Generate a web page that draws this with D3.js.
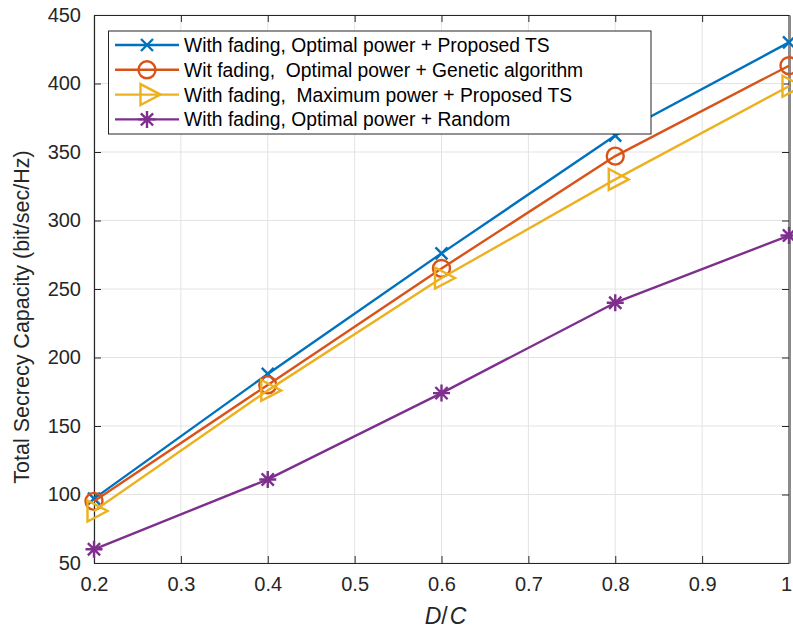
<!DOCTYPE html>
<html>
<head>
<meta charset="utf-8">
<script src="https://cdn.jsdelivr.net/npm/d3@7"></script>
<style>
  html, body { margin: 0; padding: 0; background: #fff; }
  svg { display: block; font-family: "Liberation Sans", Arial, Helvetica, sans-serif; }
</style>
</head>
<body>
<svg id="chart" width="793" height="630"></svg>
<script>
// Ratio D/C on the horizontal axis
const ratios = [0.2, 0.4, 0.6, 0.8, 1.0];

// Total secrecy capacity (bit/sec/Hz) for each scheme
const optimalProposedTS = [97, 188, 276, 362, 430];
const optimalGenetic    = [95, 180, 265, 347, 413];
const maximumProposedTS = [88, 176, 258, 330, 398];
const optimalRandom     = [60, 111, 174, 240, 289];

const seriesNames = [
  "With fading, Optimal power + Proposed TS",
  "Wit fading,  Optimal power + Genetic algorithm",
  "With fading,  Maximum power + Proposed TS",
  "With fading, Optimal power + Random"
];

const xTicks = [0.2, 0.3, 0.4, 0.5, 0.6, 0.7, 0.8, 0.9, 1];
const yTicks = [50, 100, 150, 200, 250, 300, 350, 400, 450];

const series = [
  { name: seriesNames[0], values: optimalProposedTS, color: "#0072BD", marker: "cross" },
  { name: seriesNames[1], values: optimalGenetic,    color: "#D95319", marker: "circle" },
  { name: seriesNames[2], values: maximumProposedTS, color: "#EDB120", marker: "triangle" },
  { name: seriesNames[3], values: optimalRandom,     color: "#7E2F8E", marker: "star" }
];

const svg = d3.select("#chart");
const plot = { left: 94, right: 789, top: 15, bottom: 563 };

const x = d3.scaleLinear().domain([0.2, 1]).range([plot.left, plot.right]);
const y = d3.scaleLinear().domain([50, 450]).range([plot.bottom, plot.top]);

const axisColor = "#262626";
const gridColor = "#e3e3e3";
const fontFamily = "'Liberation Sans', Arial, Helvetica, sans-serif";

// Grid
const grid = svg.append("g");
grid.selectAll("line.gx").data(xTicks).join("line")
  .attr("x1", d => x(d)).attr("x2", d => x(d))
  .attr("y1", plot.top).attr("y2", plot.bottom)
  .attr("stroke", gridColor).attr("stroke-width", 1);
grid.selectAll("line.gy").data(yTicks).join("line")
  .attr("x1", plot.left).attr("x2", plot.right)
  .attr("y1", d => y(d)).attr("y2", d => y(d))
  .attr("stroke", gridColor).attr("stroke-width", 1);

// Axes with inward ticks
const xAxis = d3.axisBottom(x).tickValues(xTicks).tickSizeInner(-7).tickSizeOuter(0)
  .tickPadding(14).tickFormat(d => d === 1 ? "1" : d3.format(".1f")(d));
const yAxis = d3.axisLeft(y).tickValues(yTicks).tickSizeInner(-7).tickSizeOuter(0)
  .tickPadding(13).tickFormat(d3.format("d"));

const gx = svg.append("g").attr("transform", `translate(0,${plot.bottom})`).call(xAxis);
const gy = svg.append("g").attr("transform", `translate(${plot.left},0)`).call(yAxis);
const gxTop = svg.append("g").attr("transform", `translate(0,${plot.top})`)
  .call(d3.axisTop(x).tickValues(xTicks).tickSizeInner(-7).tickSizeOuter(0).tickFormat(""));
const gyRight = svg.append("g").attr("transform", `translate(${plot.right},0)`)
  .call(d3.axisRight(y).tickValues(yTicks).tickSizeInner(-7).tickSizeOuter(0).tickFormat(""));

[gx, gy, gxTop, gyRight].forEach(g => {
  g.select(".domain").attr("stroke", axisColor).attr("stroke-width", 1.2);
  g.selectAll(".tick line").attr("stroke", axisColor).attr("stroke-width", 1);
  g.selectAll(".tick text").attr("fill", axisColor).attr("font-size", 20)
    .attr("font-family", fontFamily);
});
gyRight.select(".domain").attr("stroke", "#8a8a8a").attr("stroke-width", 3);
// keep the last x label inside the frame
gx.selectAll(".tick text").filter(d => d === 1).attr("dx", -3);

// Axis titles
svg.append("text")
  .attr("transform", `translate(29,${(plot.top + plot.bottom) / 2 + 28}) rotate(-90)`)
  .attr("text-anchor", "middle").attr("fill", axisColor).attr("font-size", 21.5)
  .text("Total Secrecy Capacity (bit/sec/Hz)");

const xt = svg.append("text")
  .attr("x", (plot.left + plot.right) / 2 + 4).attr("y", 624)
  .attr("text-anchor", "middle").attr("fill", axisColor).attr("font-size", 23)
  .attr("xml:space", "preserve").style("white-space", "pre");
xt.append("tspan").attr("font-style", "italic").text("D");
xt.append("tspan").text("/");
xt.append("tspan").attr("font-style", "italic").attr("dx", 2).text("C");

// Marker shapes centred on a data point
function markerPath(type) {
  switch (type) {
    case "cross": { const s = 6; return `M${-s},${-s}L${s},${s}M${-s},${s}L${s},${-s}`; }
    case "circle": { const r = 8.5; return `M${r},0A${r},${r} 0 1,1 ${-r},0A${r},${r} 0 1,1 ${r},0Z`; }
    case "triangle": return "M-6.5,-10.5L-6.5,10.5L13.5,0Z";
    case "star": {
      const s = 8.5, d = s * 0.72;
      return `M${-s},0L${s},0M0,${-s}L0,${s}M${-d},${-d}L${d},${d}M${-d},${d}L${d},${-d}`;
    }
  }
}

const line = d3.line().x(d => x(d[0])).y(d => y(d[1]));

const marks = svg.append("g");
series.forEach(s => {
  const pts = ratios.map((r, i) => [r, s.values[i]]);
  marks.append("path").datum(pts)
    .attr("d", line).attr("fill", "none")
    .attr("stroke", s.color).attr("stroke-width", 2.4).attr("stroke-linejoin", "round");
  marks.selectAll(null).data(pts).join("path")
    .attr("transform", d => `translate(${x(d[0])},${y(d[1])})`)
    .attr("d", markerPath(s.marker))
    .attr("fill", "none").attr("stroke", s.color).attr("stroke-width", 2.4);
});

// Legend
const legend = svg.append("g");
const lg = { x: 108.5, y: 31, w: 542.5, h: 103, row: 24.8, first: 45 };
legend.append("rect")
  .attr("x", lg.x).attr("y", lg.y).attr("width", lg.w).attr("height", lg.h)
  .attr("fill", "#fff").attr("stroke", axisColor).attr("stroke-width", 1);
series.forEach((s, i) => {
  const cy = lg.first + i * lg.row;
  legend.append("line").attr("x1", 115).attr("x2", 179).attr("y1", cy).attr("y2", cy)
    .attr("stroke", s.color).attr("stroke-width", 2.4);
  legend.append("path").attr("transform", `translate(147,${cy})`)
    .attr("d", markerPath(s.marker)).attr("fill", "none")
    .attr("stroke", s.color).attr("stroke-width", 2.4);
  legend.append("text").attr("x", 184).attr("y", cy).attr("dy", "0.36em")
    .attr("fill", "#000").attr("font-size", 19.3).attr("xml:space", "preserve")
    .style("white-space", "pre")
    .text(s.name);
});
</script>
</body>
</html>
